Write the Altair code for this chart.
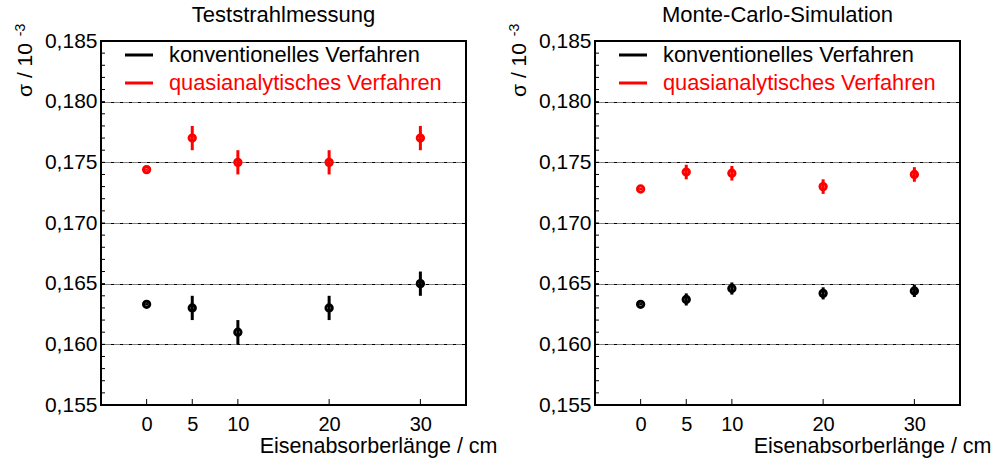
import altair as alt
import pandas as pd

# Iron absorber lengths in cm
lengths = [0, 5, 10, 20, 30]

# Test beam measurement: resolution sigma (in units of 1e-3) and uncertainties
beam_conv = [0.1633, 0.163, 0.161, 0.163, 0.165]
beam_conv_err = [0.0001, 0.001, 0.001, 0.001, 0.001]
beam_quasi = [0.1744, 0.177, 0.175, 0.175, 0.177]
beam_quasi_err = [0.0001, 0.001, 0.001, 0.001, 0.001]

# Monte-Carlo simulation
mc_conv = [0.1633, 0.1637, 0.1646, 0.1642, 0.1644]
mc_conv_err = [0.0001, 0.0005, 0.0005, 0.0005, 0.0005]
mc_quasi = [0.1728, 0.1742, 0.1741, 0.1730, 0.1740]
mc_quasi_err = [0.0001, 0.0006, 0.0006, 0.0006, 0.0006]

methods = ["konventionelles Verfahren", "quasianalytisches Verfahren"]
method_colors = ["#000000", "#ff0000"]
panel_titles = ["Teststrahlmessung", "Monte-Carlo-Simulation"]

y_major = [0.155, 0.160, 0.165, 0.170, 0.175, 0.180, 0.185]
y_minor = [round(0.155 + 0.001 * i, 3) for i in range(31)]
x_ticks = [0, 5, 10, 20, 30]

y_title_main = ["σ / 10"]
y_title_sup = ["-3"]
x_title = "Eisenabsorberlänge / cm"

W, H = 365, 364
FONT = "Liberation Sans"

color_scale = alt.Scale(domain=methods, range=method_colors)
x_scale = alt.Scale(domain=[-5, 35], nice=False, zero=False)
y_scale = alt.Scale(domain=[0.155, 0.185], nice=False, zero=False)

x_axis = alt.Axis(values=x_ticks, title=x_title, grid=False, domain=False,
                  ticks=False, labelFontSize=20, labelFont=FONT,
                  labelColor="black", labelPadding=9,
                  titleFont=FONT, titleFontSize=21.5, titleFontWeight="normal",
                  titleColor="black", titleAnchor="end", titleAlign="right",
                  titleX=W + 31, titleY=47, titleBaseline="alphabetic")
y_axis = alt.Axis(values=y_major, title=None, grid=True, gridColor="#000000",
                  gridDash=[4, 1, 1, 1, 1, 1], gridWidth=1, domain=False,
                  ticks=False, labelFontSize=21, labelFont=FONT,
                  labelColor="black", labelPadding=4,
                  labelExpr="replace(format(datum.value, '.3f'), '.', ',')")


def X(field):
    return alt.X(field, scale=x_scale, axis=x_axis)


def Y(field):
    return alt.Y(field, scale=y_scale, axis=y_axis)


def make_frame(conv, conv_err, quasi, quasi_err):
    rows = []
    for m, vals, errs in ((methods[0], conv, conv_err), (methods[1], quasi, quasi_err)):
        for L, v, e in zip(lengths, vals, errs):
            rows.append({"L": L, "sigma": v, "lo": v - e, "hi": v + e, "method": m})
    return pd.DataFrame(rows)


def panel(df, title):
    base = alt.Chart(df)

    # minor ticks on the left frame edge, major x ticks pointing up from the bottom
    minor = alt.Chart(pd.DataFrame({"v": y_minor})).mark_rule(color="black", strokeWidth=1).encode(
        y=Y("v:Q"), x=alt.value(0), x2=alt.value(4),
    )
    xt = alt.Chart(pd.DataFrame({"v": x_ticks})).mark_rule(color="black", strokeWidth=1).encode(
        x=X("v:Q"), y=alt.value(H), y2=alt.value(H - 6),
    )

    bars = base.mark_rule(strokeWidth=3).encode(
        x=X("L:Q"), y=Y("lo:Q"), y2="hi:Q",
        color=alt.Color("method:N", scale=color_scale, legend=None),
    )
    pts = base.mark_point(filled=False, size=40, strokeWidth=3, opacity=1).encode(
        x=X("L:Q"), y=Y("sigma:Q"),
        color=alt.Color("method:N", scale=color_scale, legend=None),
    )

    legend_layers = []
    for i, (m, c) in enumerate(zip(methods, method_colors)):
        ly = 14 + 28 * i
        row = alt.Chart(pd.DataFrame({"method": [m]}))
        legend_layers.append(row.mark_rule(strokeWidth=3, color=c).encode(
            x=alt.value(24), x2=alt.value(52), y=alt.value(ly)))
        legend_layers.append(row.mark_text(align="left", baseline="middle", fontSize=21.8,
                                           font=FONT, color=c).encode(
            x=alt.value(68), y=alt.value(ly), text="method:N"))

    ytitle = alt.Chart(pd.DataFrame({"t": y_title_main})).mark_text(
        angle=270, align="center", baseline="middle", fontSize=21, font=FONT, color="black"
    ).encode(text="t:N", x=alt.value(-75), y=alt.value(29))
    ysup = alt.Chart(pd.DataFrame({"t": y_title_sup})).mark_text(
        angle=270, align="center", baseline="middle", fontSize=14, font=FONT, color="black"
    ).encode(text="t:N", x=alt.value(-80), y=alt.value(-11))

    return alt.layer(minor, xt, bars, pts, *legend_layers, ytitle, ysup).properties(
        width=W, height=H,
        title=alt.TitleParams(title, fontSize=22, font=FONT, fontWeight="normal",
                              color="black", anchor="middle", offset=-3),
    )


left = panel(make_frame(beam_conv, beam_conv_err, beam_quasi, beam_quasi_err), panel_titles[0])
right = panel(make_frame(mc_conv, mc_conv_err, mc_quasi, mc_quasi_err), panel_titles[1])

chart = alt.hconcat(left, right, spacing=9).properties(
    padding={"left": 13, "top": 2, "right": 0, "bottom": 0},
    background="white",
).configure_view(stroke="black", strokeWidth=2)

chart.save("out.html", embed_options={"renderer": "svg", "actions": False})
